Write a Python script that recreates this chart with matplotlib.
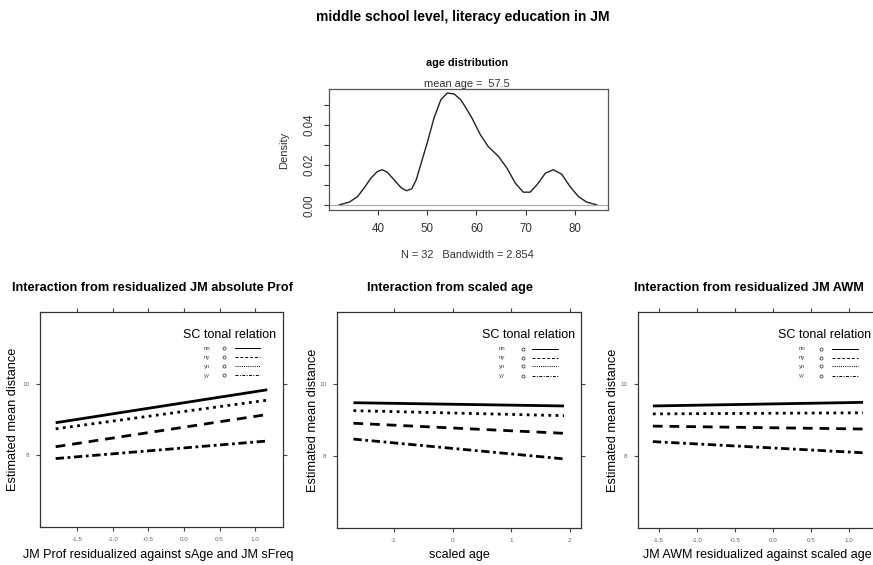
import matplotlib
matplotlib.use("Agg")
import matplotlib.pyplot as plt

plt.rcParams['font.family'] = ['Liberation Sans', 'DejaVu Sans']

W, H = 873, 565

# ---------------- data ----------------
main_title = "middle school level, literacy education in JM"

# age density curve
age_x = [32.2, 34.2, 35.9, 37.2, 38.6, 39.9, 40.9, 41.9, 43.3, 44.7, 45.8, 46.9,
         47.8, 48.9, 50.1, 51.4, 52.8, 54.1, 55.5, 56.8, 57.7, 59.1, 60.8, 62.4,
         64.5, 66.2, 67.9, 69.5, 70.9, 72.3, 74.0, 75.6, 77.3, 79.0, 80.7, 82.4, 84.4]
age_density = [0.0002, 0.0015, 0.0043, 0.0085, 0.0135, 0.0168, 0.0177, 0.0165,
               0.0127, 0.0088, 0.0072, 0.0082, 0.0127, 0.0218, 0.0318, 0.0435,
               0.0527, 0.0560, 0.0555, 0.0527, 0.0493, 0.0435, 0.0352, 0.0293,
               0.0243, 0.0185, 0.0110, 0.0065, 0.0065, 0.0102, 0.0160, 0.0177,
               0.0155, 0.0093, 0.0043, 0.0015, 0.0002]
age_xticks = [40, 50, 60, 70, 80]
age_yticks = [0.00, 0.01, 0.02, 0.03, 0.04, 0.05]
age_yticklabels = ["0.00", "", "0.02", "", "0.04", ""]

groups = ["nn", "ny", "yn", "yy"]

p1_x = [-1.80, 1.17]
p1_vals = {"nn": [8.91, 9.83], "ny": [8.24, 9.14], "yn": [8.74, 9.54], "yy": [7.91, 8.40]}
p1_xticks = [-1.5, -1.0, -0.5, 0.0, 0.5, 1.0]
p1_xticklabels = ["-1.5", "-1.0", "-0.5", "0.0", "0.5", "1.0"]

p2_x = [-1.69, 1.90]
p2_vals = {"nn": [9.48, 9.39], "ny": [8.91, 8.63], "yn": [9.26, 9.12], "yy": [8.47, 7.92]}
p2_xticks = [-1, 0, 1, 2]
p2_xticklabels = ["-1", "0", "1", "2"]

p3_x = [-1.575, 1.18]
p3_vals = {"nn": [9.39, 9.49], "ny": [8.83, 8.75], "yn": [9.17, 9.20], "yy": [8.40, 8.09]}
p3_xticks = [-1.5, -1.0, -0.5, 0.0, 0.5, 1.0]
p3_xticklabels = ["-1.5", "-1.0", "-0.5", "0.0", "0.5", "1.0"]

panel_yticks = [8, 10]
panel_yticklabels = ["8", "10"]

# ---------------- styles ----------------
dash_styles = {"nn": None, "ny": (3.5, 2.5), "yn": (1.0, 1.6), "yy": (3.0, 1.3, 1.0, 1.3)}
leg_dash = {"nn": None, "ny": (3, 2), "yn": (1, 1.2), "yy": (3, 1.5, 1, 1.5)}

fig = plt.figure(figsize=(W / 100, H / 100), dpi=100)


def px_axes(x0, y0, x1, y1):
    return fig.add_axes([x0 / W, 1 - y1 / H, (x1 - x0) / W, (y1 - y0) / H])


def ftext(x, y, s, **kw):
    fig.text(x / W, 1 - y / H, s, **kw)


spine_col = "#333333"

# main title
ftext(463, 17, main_title, ha="center", va="center", fontsize=10, fontweight="bold")

# ---------------- density panel ----------------
ax = px_axes(329, 89, 608, 210)
ax.plot(age_x, age_density, color="#222222", lw=1.0)
ax.axhline(0, color="#aaaaaa", lw=0.8)
ax.set_xlim(30.1, 86.7)
ax.set_ylim(-0.0024, 0.058)
ax.set_xticks(age_xticks)
ax.set_xticklabels([str(v) for v in age_xticks])
ax.set_yticks(age_yticks)
ax.set_yticklabels(age_yticklabels, rotation=90, va="center")
ax.tick_params(direction="out", length=3.6, width=0.8, labelsize=8.3,
               colors="#333333", pad=6)
for s in ax.spines.values():
    s.set_color("#555555")
    s.set_linewidth(0.9)
ftext(284, 150, "Density", ha="center", va="center", rotation=90, fontsize=8,
      color="#333333")
ftext(467, 63, "age distribution", ha="center", va="center", fontsize=7.8, fontweight="bold")
ftext(467, 84, "mean age =  57.5", ha="center", va="center", fontsize=7.9, color="#333333")
ftext(467, 255, "N = 32   Bandwidth = 2.854", ha="center", va="center", fontsize=7.9,
      color="#333333")


# ---------------- effect panels ----------------
def effect_panel(box, xs, vals, xlim, xticks, xticklabels, title, title_x, ylabel_x,
                 xlabel, xlabel_x, leg):
    ax = px_axes(*box)
    for g in groups:
        kw = dict(color="black", lw=2.0, solid_capstyle="butt", dash_capstyle="butt")
        line, = ax.plot(xs, vals[g], **kw)
        if dash_styles[g] is not None:
            line.set_dashes(dash_styles[g])
    ax.set_xlim(*xlim)
    ax.set_ylim(6.0, 12.0)
    ax.set_xticks(xticks)
    ax.set_xticklabels(xticklabels)
    ax.set_yticks(panel_yticks)
    ax.set_yticklabels(panel_yticklabels)
    ax.tick_params(direction="out", length=3, width=0.8, labelsize=4.5,
                   colors="#444444", labelcolor="#666666", pad=4.5,
                   top=True, right=True, labeltop=False, labelright=False)
    for s in ax.spines.values():
        s.set_color(spine_col)
        s.set_linewidth(0.9)
    ftext(title_x, 288, title, ha="center", va="center", fontsize=9.2, fontweight="bold")
    ftext(ylabel_x, (box[1] + box[3]) / 2, "Estimated mean distance", ha="center",
          va="center", rotation=90, fontsize=9.2)
    ftext(xlabel_x, 555, xlabel, ha="center", va="center", fontsize=9)
    # key
    tx, lx, cx, l0, l1 = leg
    ax.text(tx, 0.893, "SC tonal relation", transform=ax.transAxes, ha="center",
            va="center", fontsize=9)
    ys = [0.831, 0.789, 0.748, 0.706]
    for g, yy in zip(groups, ys):
        ax.text(lx, yy, g, transform=ax.transAxes, ha="center", va="center",
                fontsize=4.3, color="#444444")
        ax.plot([cx], [yy], transform=ax.transAxes, marker="o", ms=2.2, mfc="none",
                mec="#444444", mew=0.6, clip_on=False)
        ln, = ax.plot([l0, l1], [yy, yy], transform=ax.transAxes, color="black", lw=0.7,
                      clip_on=False)
        if leg_dash[g] is not None:
            ln.set_dashes(leg_dash[g])
    return ax


effect_panel((40, 312, 283, 527), p1_x, p1_vals, (-2.02, 1.39), p1_xticks, p1_xticklabels,
             "Interaction from residualized JM absolute Prof", 152, 13,
             "JM Prof residualized against sAge and JM sFreq", 158,
             (0.78, 0.687, 0.757, 0.802, 0.905))
effect_panel((337, 312, 581, 528), p2_x, p2_vals, (-1.97, 2.19), p2_xticks, p2_xticklabels,
             "Interaction from scaled age", 450, 313, "scaled age", 459,
             (0.786, 0.676, 0.763, 0.798, 0.907))
effect_panel((638, 312, 876, 528), p3_x, p3_vals, (-1.77, 1.35), p3_xticks, p3_xticklabels,
             "Interaction from residualized JM AWM", 749, 613,
             "JM AWM residualized against scaled age", 757,
             (0.785, 0.69, 0.768, 0.817, 0.923))

fig.savefig("out.png", dpi=100)
